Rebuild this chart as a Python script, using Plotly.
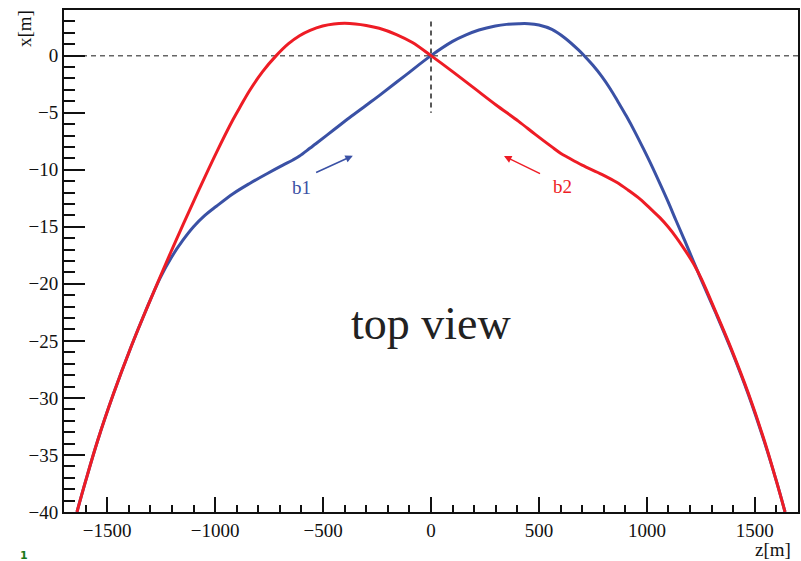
import plotly.graph_objects as go

# ---- data ----
b1_z = [-1640, -1600, -1545, -1470, -1391, -1320, -1255, -1200, -1150, -1100, -1050,
        -994, -917, -840, -760, -686, -640, -609, -560, -532, -450, -378, -300, -240, -120, 0,
        100, 160, 222, 298, 350, 406, 452, 500, 560, 620, 683, 714, 750, 790, 830, 868,
        905, 945, 985, 1021, 1060, 1098, 1135, 1175, 1215, 1252, 1320, 1391, 1470,
        1545, 1600, 1640]
b1_x = [-40.0, -37.3, -33.8, -29.6, -25.6, -22.3, -19.5, -17.6, -16.2, -15.0, -14.05,
        -13.2, -12.1, -11.2, -10.35, -9.6, -9.15, -8.8, -8.1, -7.7, -6.5, -5.45, -4.35, -3.5, -1.75, 0.0,
        1.25, 1.8, 2.25, 2.6, 2.74, 2.8, 2.8, 2.68, 2.3, 1.55, 0.5, -0.1, -0.85, -1.8, -2.9, -4.1,
        -5.3, -6.7, -8.2, -9.6, -11.2, -12.8, -14.45, -16.2, -18.0, -19.65, -22.6, -25.8, -29.7,
        -33.9, -37.3, -40.0]

b2_z = [-1640, -1600, -1545, -1470, -1391, -1320, -1255, -1200, -1148, -1071, -994,
        -917, -880, -840, -780, -717, -660, -609, -560, -502, -450, -400, -350, -300,
        -240, -160, -86, 0, 100, 200, 300, 406, 483, 560, 600, 637, 700, 791,
        860, 914, 970, 1021, 1060, 1098, 1135, 1175, 1215, 1252, 1320, 1391, 1470,
        1545, 1600, 1640]
b2_x = [-40.0, -37.3, -33.8, -29.6, -25.6, -22.3, -19.4, -17.0, -14.8, -11.6, -8.5,
        -5.6, -4.35, -3.05, -1.4, 0.0, 1.05, 1.75, 2.22, 2.6, 2.78, 2.83, 2.78, 2.65,
        2.4, 1.85, 1.15, 0.0, -1.4, -2.85, -4.3, -5.76, -6.9, -8.0, -8.55, -8.95, -9.6, -10.4,
        -11.1, -11.8, -12.6, -13.5, -14.2, -15.0, -15.9, -17.0, -18.2, -19.55, -22.5, -25.7, -29.6,
        -33.8, -37.3, -40.0]

x_ticks = [-1500, -1000, -500, 0, 500, 1000, 1500]
y_ticks = [0, -5, -10, -15, -20, -25, -30, -35, -40]

BLUE = "#3a51a5"
RED = "#ee1c25"
FONT = "Liberation Serif"

fig = go.Figure()

fig.add_trace(go.Scatter(x=b1_z, y=b1_x, mode="lines", name="b1",
                         line=dict(color=BLUE, width=3, shape="spline", smoothing=1.0)))
fig.add_trace(go.Scatter(x=b2_z, y=b2_x, mode="lines", name="b2",
                         line=dict(color=RED, width=3, shape="spline", smoothing=1.0)))

# dashed reference lines
fig.add_shape(type="line", xref="paper", yref="y", x0=0, x1=1, y0=0, y1=0,
              line=dict(color="#666666", width=1.5, dash="5px,4px"), layer="below")
fig.add_shape(type="line", xref="x", yref="y", x0=0, x1=0, y0=3, y1=-5,
              line=dict(color="#222222", width=1.5, dash="5px,4px"), layer="below")

# arrows and labels
fig.add_annotation(x=-362, y=-8.77, ax=-539, ay=-10.3, axref="x", ayref="y", xref="x", yref="y",
                   text="", showarrow=True, arrowhead=2, arrowsize=1, arrowwidth=1.5,
                   arrowcolor=BLUE)
fig.add_annotation(x=338, y=-8.8, ax=512, ay=-10.4, axref="x", ayref="y", xref="x", yref="y",
                   text="", showarrow=True, arrowhead=2, arrowsize=1, arrowwidth=1.5,
                   arrowcolor=RED)
fig.add_annotation(x=-600, y=-11.6, xref="x", yref="y", text="b1", showarrow=False,
                   font=dict(family=FONT, size=19, color=BLUE))
fig.add_annotation(x=607, y=-11.5, xref="x", yref="y", text="b2", showarrow=False,
                   font=dict(family=FONT, size=19, color=RED))
fig.add_annotation(x=0, y=-23.5, xref="x", yref="y", text="top view", showarrow=False,
                   font=dict(family=FONT, size=46, color="#222222"))

# axis titles
fig.add_annotation(x=(25 - 64) / 736, y=1 - (29 - 10) / 502, xref="paper", yref="paper",
                   text="x[m]", showarrow=False, textangle=-90,
                   xanchor="center", yanchor="middle",
                   font=dict(family=FONT, size=19, color="#111111"))
fig.add_annotation(x=1.0, y=0, xref="paper", yref="paper", text="z[m]", showarrow=False,
                   xanchor="right", yanchor="middle", yshift=-37, xshift=-5,
                   font=dict(family=FONT, size=19, color="#111111"))
# small green mark at bottom left
fig.add_annotation(x=0, y=0, xref="paper", yref="paper", text="<b>1</b>", showarrow=False,
                   xanchor="left", yanchor="top", xshift=-46, yshift=-35,
                   font=dict(family="DejaVu Sans", size=11, color="#1a7a1a"))

fig.update_layout(
    width=801, height=561,
    margin=dict(l=64, r=1, t=10, b=49),
    paper_bgcolor="white", plot_bgcolor="white",
    showlegend=False,
    font=dict(family=FONT, size=19, color="#111111"),
    xaxis=dict(range=[-1700, 1700], tickvals=x_ticks,
               ticktext=[str(v).replace("-", "\u2212") for v in x_ticks],
               ticks="inside", ticklen=15, tickwidth=1.5, tickcolor="#111111",
               minor=dict(dtick=100, tick0=0, ticks="inside", ticklen=7, tickwidth=1.5,
                          tickcolor="#111111"),
               showline=True, linecolor="#111111", linewidth=2, mirror=True,
               showgrid=False, zeroline=False, tickfont=dict(family=FONT, size=19)),
    yaxis=dict(range=[-40, 4], tickvals=y_ticks,
               ticktext=[str(v).replace("-", "\u2212") for v in y_ticks],
               ticks="inside", ticklen=21, tickwidth=1.5, tickcolor="#111111",
               minor=dict(dtick=1, tick0=0, ticks="inside", ticklen=11, tickwidth=1.5,
                          tickcolor="#111111"),
               showline=True, linecolor="#111111", linewidth=2, mirror=True,
               showgrid=False, zeroline=False, tickfont=dict(family=FONT, size=19)),
)

fig.write_html("out.html")
